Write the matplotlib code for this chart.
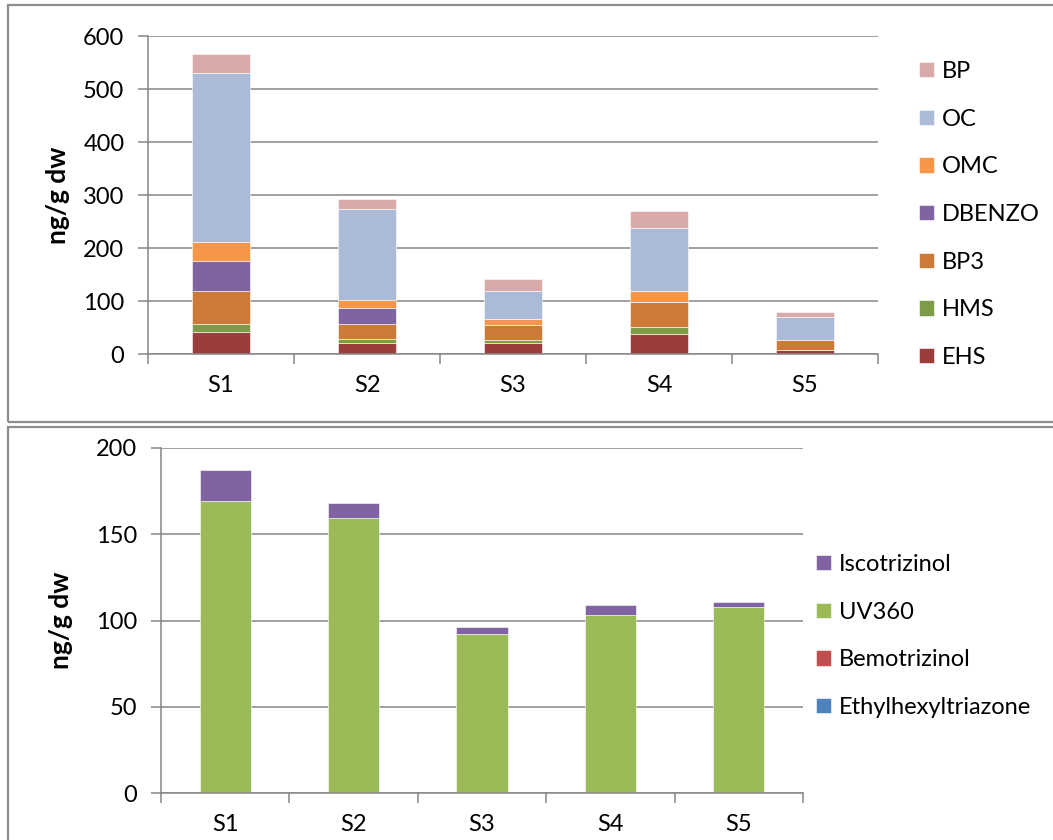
import numpy as np
import matplotlib
matplotlib.use('Agg')
from matplotlib import pyplot as plt
from matplotlib.patches import Rectangle

plt.rcParams['font.family'] = ['Lato', 'DejaVu Sans']

# data, top panel (ng/g dw)
sites = ['S1', 'S2', 'S3', 'S4', 'S5']
top_names = ['EHS', 'HMS', 'BP3', 'DBENZO', 'OMC', 'OC', 'BP']
ehs = [42, 21, 21, 38, 8]
hms = [16, 8, 6, 13, 0]
bp3 = [62, 29, 28, 48, 19]
dbenzo = [56, 30, 0, 0, 0]
omc = [36, 15, 12, 21, 0]
oc = [319, 170, 52, 119, 43]
bp = [36, 20, 23, 32, 10]
top_colors = ['#9B3E3B', '#7E9C48', '#CB7A37', '#8064A2', '#F79646',
              '#AABAD7', '#D9AAAA']

# data, bottom panel (ng/g dw)
bot_names = ['Ethylhexyltriazone', 'Bemotrizinol', 'UV360', 'Iscotrizinol']
ethylhexyltriazone = [0, 0, 0, 0, 0]
bemotrizinol = [0, 0, 0, 0, 0]
uv360 = [169, 159.5, 92, 103, 108]
iscotrizinol = [18, 8.5, 4, 6, 2.5]
bot_colors = ['#4F81BD', '#C0504D', '#9BBB59', '#8064A2']

grey = '#868686'
W, H = 1053, 840
fs = 17


def style_axes(ax, yticks, label_x):
    ax.set_ylim(yticks[0], yticks[-1])
    ax.set_xlim(-0.5, len(sites) - 0.5)
    ax.set_yticks(yticks)
    ax.yaxis.grid(True, color=grey, lw=1.1)
    ax.set_axisbelow(True)
    for s in ['top', 'right']:
        ax.spines[s].set_visible(False)
    for s in ['left', 'bottom']:
        ax.spines[s].set_color(grey)
        ax.spines[s].set_linewidth(1.1)
    ax.set_xticks(np.arange(len(sites)))
    ax.set_xticklabels(sites)
    ax.set_xticks(np.arange(len(sites) + 1) - 0.5, minor=True)
    ax.tick_params(axis='x', which='major', length=0, pad=15, labelsize=fs)
    ax.tick_params(axis='x', which='minor', length=7, width=1.1,
                   color=grey, direction='out')
    ax.tick_params(axis='y', length=7, width=1.1, color=grey, pad=10,
                   labelsize=fs)
    ax.set_ylabel('ng/g dw', fontsize=19, fontweight='bold')
    ax.yaxis.set_label_coords(label_x, 0.5)


def stack(ax, series, colors, names):
    x = np.arange(len(sites))
    base = np.zeros(len(sites))
    handles = []
    for vals, c, n in zip(series, colors, names):
        vals = np.array(vals, dtype=float)
        h = ax.bar(x, vals, width=0.4, bottom=base, color=c, label=n,
                   edgecolor='white', linewidth=0.4)
        handles.append(h)
        base += vals
    return handles


fig = plt.figure(figsize=(W / 100, H / 100), dpi=100)

# chart area frames
fig.patches.append(Rectangle((8 / W, 1 - 421.5 / H), 1.1, 416.5 / H,
                             transform=fig.transFigure, fill=False,
                             edgecolor='#8C8C8C', lw=1.6))
fig.patches.append(Rectangle((8 / W, -0.1), 1.1, 0.1 + 1 - 427 / H,
                             transform=fig.transFigure, fill=False,
                             edgecolor='#8C8C8C', lw=1.6))

ax1 = fig.add_axes([148 / W, 1 - 354.3 / H, 730 / W, 318.3 / H])
h1 = stack(ax1, [ehs, hms, bp3, dbenzo, omc, oc, bp], top_colors, top_names)
style_axes(ax1, [0, 100, 200, 300, 400, 500, 600], (70 - 148) / 730)
ax1.legend(h1[::-1], top_names[::-1], loc='upper left',
           bbox_to_anchor=(919 / W, 1 - 61 / H),
           bbox_transform=fig.transFigure, frameon=False, fontsize=fs,
           handlelength=0.62, handleheight=0.62, handletextpad=0.35,
           labelspacing=1.13, borderpad=0, borderaxespad=0)

ax2 = fig.add_axes([161 / W, 1 - 793 / H, 642 / W, 345 / H])
h2 = stack(ax2, [ethylhexyltriazone, bemotrizinol, uv360, iscotrizinol],
           bot_colors, bot_names)
style_axes(ax2, [0, 50, 100, 150, 200], (73 - 161) / 642)
ax2.legend(h2[::-1], bot_names[::-1], loc='upper left',
           bbox_to_anchor=(816 / W, 1 - 554 / H),
           bbox_transform=fig.transFigure, frameon=False, fontsize=fs,
           handlelength=0.62, handleheight=0.62, handletextpad=0.35,
           labelspacing=1.13, borderpad=0, borderaxespad=0)

fig.savefig('out.png', dpi=100)
